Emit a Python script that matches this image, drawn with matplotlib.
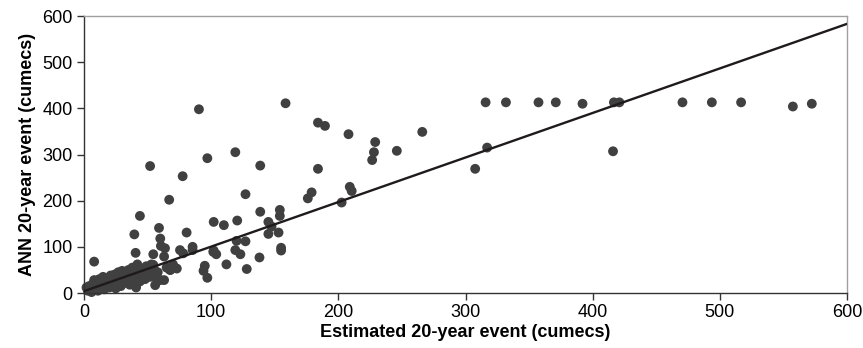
import numpy as np
import matplotlib.pyplot as plt

plt.rcParams['font.family'] = ['Liberation Sans', 'DejaVu Sans']

# dense cluster near the origin
cluster_x = [2, 3, 4, 5, 6, 7, 8, 9, 10, 11, 12, 13, 14, 15, 16, 17, 18, 19, 20,
             21, 22, 23, 24, 25, 26, 27, 28, 29, 30, 31, 32, 33, 34, 35, 36, 37,
             38, 39, 40, 41, 42, 43, 44, 45, 46, 48, 49, 50, 52, 53, 55, 56, 57,
             58, 60, 63, 65, 68, 70, 8]
cluster_y = [12, 5, 15, 8, 2, 20, 28, 10, 18, 5, 30, 22, 14, 35, 8, 25, 32, 18, 12,
             38, 28, 20, 40, 10, 33, 45, 25, 15, 48, 35, 22, 42, 30, 50, 18, 38,
             55, 28, 45, 12, 62, 35, 25, 50, 40, 30, 58, 45, 35, 62, 52, 17, 35,
             45, 28, 28, 55, 50, 62, 68]

# scattered points
mid_x = [44, 59, 39.6, 60, 60.5, 63.7, 80.7, 40.6, 54.5, 75.5, 78, 85.4, 85.4,
         101.7, 63, 73, 67.6, 54.5, 57, 52, 77.6, 67, 90.4, 97, 119, 138.6, 158.5,
         184, 189.5, 208, 229, 228, 226.6, 246, 266, 184, 127, 176, 179, 209,
         210.5, 202.6, 138.6, 154, 154, 102, 110, 120.5, 145, 147.5, 145, 153,
         120, 127, 102, 104, 119, 123, 155, 155, 138, 112, 128, 95, 94, 97]
mid_y = [167, 141, 127, 118, 102, 97, 131, 87, 84, 93, 86, 100, 93,
         89, 79, 53, 50, 61, 35, 275, 253, 202, 398, 292, 305, 276, 411,
         369, 362, 344, 327, 305, 288, 308, 349, 269, 214, 205, 218, 230,
         221, 196, 176, 180, 167, 154, 147, 157, 154, 144, 128, 131,
         113, 112, 92, 84, 93, 84, 98, 92, 77, 62, 52, 59, 48, 33]

high_x = [315.8, 331.8, 357.4, 371, 392, 416.7, 421, 470.6, 493.7, 516.7,
          557.4, 572.3, 317, 307.6, 416]
high_y = [413, 413, 413, 413, 410, 413, 413, 413, 413, 413,
          404, 410, 315, 269, 307]

# trend line
slope = 0.965
intercept = 4.0

x_all = np.array(cluster_x + mid_x + high_x)
y_all = np.array(cluster_y + mid_y + high_y)

fig = plt.figure(figsize=(8.63, 3.48), dpi=100)
ax = fig.add_axes([0.0973, 0.158, 0.8842, 0.796])

ax.scatter(x_all, y_all, s=50, color='#404040', edgecolors='none', zorder=2, clip_on=False)

xl = np.array([0, 600])
ax.plot(xl, slope * xl + intercept, color='#1f1a1b', lw=1.7, zorder=3)

ax.set_xlim(0, 600)
ax.set_ylim(0, 600)
ax.set_xticks(range(0, 601, 100))
ax.set_yticks(range(0, 601, 100))

for side in ['top', 'right']:
    ax.spines[side].set_color('#a0a0a0')
for side in ['left', 'bottom']:
    ax.spines[side].set_color('#333333')
for sp in ax.spines.values():
    sp.set_linewidth(1.0)

ax.tick_params(direction='out', length=5, width=1, color='#333333', labelsize=13, pad=3)

ax.set_xlabel('Estimated 20-year event (cumecs)', fontsize=13, fontweight='bold', labelpad=2)
ax.set_ylabel('ANN 20-year event (cumecs)', fontsize=13, fontweight='bold', labelpad=5)

plt.savefig('out.png', dpi=100)
